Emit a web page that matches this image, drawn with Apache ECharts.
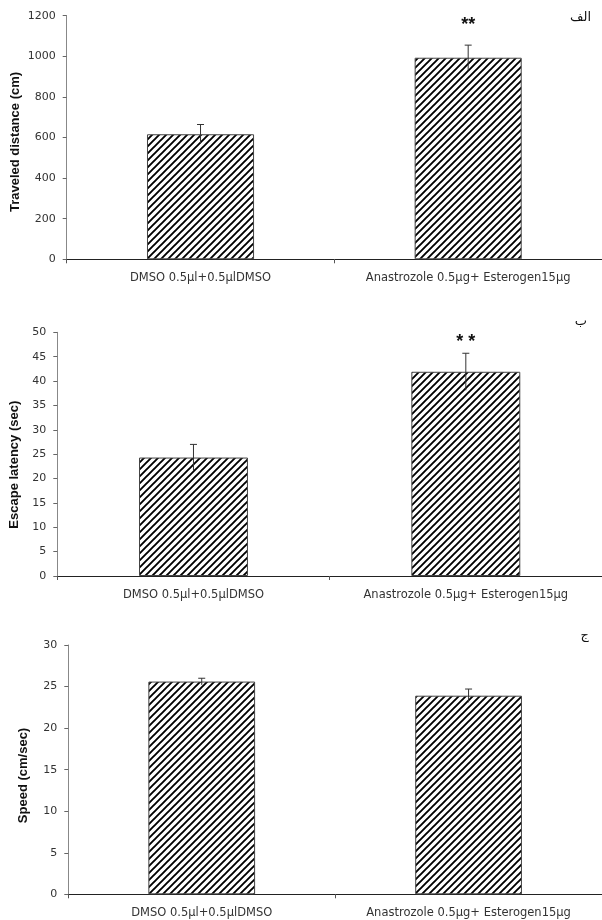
<!DOCTYPE html>
<html>
<head>
<meta charset="utf-8">
<script src="https://cdn.jsdelivr.net/npm/echarts@6/dist/echarts.min.js"></script>
<style>
  html, body { margin: 0; padding: 0; background: #fff; }
  #chart { width: 602px; height: 920px; }
</style>
</head>
<body>
<div id="chart"></div>
<script>
// Groups shared by all three panels
const groups = ['DMSO 0.5µl+0.5µlDMSO', 'Anastrozole 0.5µg+ Esterogen15µg'];

// Panel A: traveled distance (cm)
const distanceMean = [616, 993];
const distanceErr = [48, 62];
const distanceSig = ['', '**'];

// Panel B: escape latency (sec)
const latencyMean = [24.3, 41.9];
const latencyErr = [2.7, 3.8];
const latencySig = ['', '* *'];

// Panel C: speed (cm/sec)
const speedMean = [25.6, 23.9];
const speedErr = [0.4, 0.8];
const speedSig = ['', ''];

const FONT = '"Liberation Sans", Arial, sans-serif';
const TICK_FONT = '"DejaVu Sans", sans-serif';

// Diagonal hatch tile used as the bar fill
function hatchTile(size, lw) {
  const c = document.createElement('canvas');
  c.width = size; c.height = size;
  const g = c.getContext('2d');
  g.fillStyle = '#fff';
  g.fillRect(0, 0, size, size);
  g.strokeStyle = '#000';
  g.lineWidth = lw;
  g.beginPath();
  for (let k = -1; k <= 1; k++) {
    g.moveTo(k * size - 1, size + 1);
    g.lineTo(k * size + size + 1, -1);
  }
  g.stroke();
  return c;
}
const hatch = { image: hatchTile(7, 1.9), repeat: 'repeat' };

const panels = [
  { mean: distanceMean, err: distanceErr, sig: distanceSig, max: 1200, interval: 200,
    grid: { left: 66.7, top: 15.7, width: 539, height: 243.6 }, sigGap: 20 },
  { mean: latencyMean, err: latencyErr, sig: latencySig, max: 50, interval: 5,
    grid: { left: 57.3, top: 332.3, width: 548, height: 243.7 }, sigGap: 11 },
  { mean: speedMean, err: speedErr, sig: speedSig, max: 30, interval: 5,
    grid: { left: 68.3, top: 645, width: 535.5, height: 249.3 }, sigGap: 14 }
];

const titles = [
  { text: 'Traveled distance (cm)', x: 15, y: 142 },
  { text: 'Escape latency (sec)', x: 14, y: 464.7 },
  { text: 'Speed (cm/sec)', x: 23, y: 775.5 }
];

const panelTags = [
  { text: 'الف', x: 591, y: 18 },
  { text: 'ب', x: 587, y: 322 },
  { text: 'ج', x: 589, y: 636 }
];

const grids = [], xAxes = [], yAxes = [], series = [];

panels.forEach((p, i) => {
  grids.push(p.grid);
  xAxes.push({
    type: 'category', gridIndex: i, data: groups,
    axisLine: { lineStyle: { color: '#222', width: 1 } },
    axisTick: { show: true, length: 4, lineStyle: { color: '#555' } },
    axisLabel: { fontFamily: TICK_FONT, fontSize: 11.5, color: '#333', margin: 13 }
  });
  yAxes.push({
    type: 'value', gridIndex: i, min: 0, max: p.max, interval: p.interval,
    axisLine: { show: true, lineStyle: { color: '#888', width: 1 } },
    axisTick: { show: true, length: 4, lineStyle: { color: '#666' } },
    splitLine: { show: false },
    axisLabel: { fontFamily: TICK_FONT, fontSize: 11, color: '#333', margin: 11,
                 formatter: v => String(v) }
  });
  series.push({
    type: 'bar', xAxisIndex: i, yAxisIndex: i,
    data: p.mean, barWidth: '40%', silent: true,
    itemStyle: { color: hatch, borderColor: '#444', borderWidth: 1 }
  });
  const sig = p.sig, gap = p.sigGap;
  series.push({
    type: 'custom', xAxisIndex: i, yAxisIndex: i, silent: true, z: 5,
    data: p.mean.map((m, j) => [j, m, p.err[j]]),
    renderItem: function (params, api) {
      const j = api.value(0), m = api.value(1), e = api.value(2);
      const top = api.coord([j, m + e]);
      const bot = api.coord([j, m - e]);
      const style = { stroke: '#333', lineWidth: 1 };
      const children = [
        { type: 'line', shape: { x1: top[0], y1: top[1], x2: bot[0], y2: bot[1] }, style },
        { type: 'line', shape: { x1: top[0] - 3.5, y1: top[1], x2: top[0] + 3.5, y2: top[1] }, style }
      ];
      if (sig[j]) {
        children.push({
          type: 'text',
          style: { text: sig[j], x: top[0], y: top[1] - gap, textAlign: 'center', textVerticalAlign: 'middle',
                   font: 'bold 18px ' + FONT, fill: '#111' }
        });
      }
      return { type: 'group', children };
    }
  });
});

const graphics = titles.map(t => ({
  type: 'text', x: t.x, y: t.y, rotation: Math.PI / 2,
  style: { text: t.text, x: 0, y: 0, textAlign: 'center', textVerticalAlign: 'middle',
           font: 'bold 13px ' + FONT, fill: '#111' }
})).concat(panelTags.map(t => ({
  type: 'text', x: t.x, y: t.y,
  style: { text: t.text, x: 0, y: 0, textAlign: 'right', textVerticalAlign: 'middle',
           font: '13px "DejaVu Sans", sans-serif', fill: '#111' }
})));

const chart = echarts.init(document.getElementById('chart'), null, { renderer: 'canvas' });
chart.setOption({
  animation: false,
  backgroundColor: '#fff',
  grid: grids,
  xAxis: xAxes,
  yAxis: yAxes,
  series: series,
  graphic: graphics
});
</script>
</body>
</html>
